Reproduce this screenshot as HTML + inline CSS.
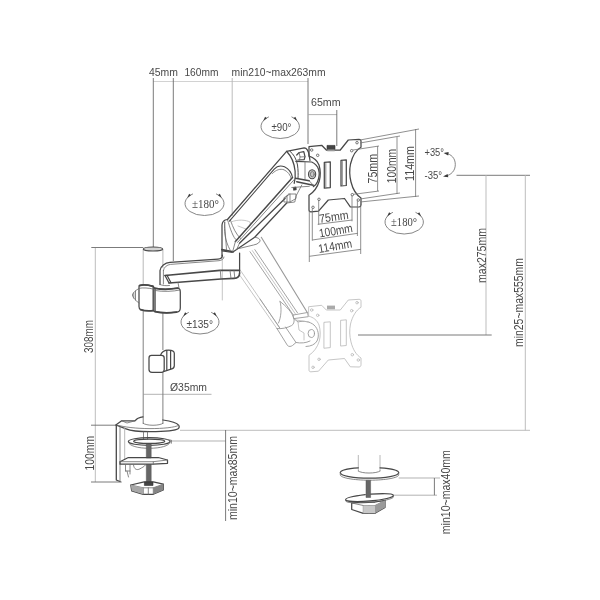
<!DOCTYPE html>
<html lang="en">
<head>
<meta charset="utf-8">
<title>Monitor arm dimensions</title>
<style>
html,body{margin:0;padding:0;background:#fff;}
body{width:600px;height:600px;overflow:hidden;}
svg{display:block;width:600px;height:600px;filter:blur(0.45px);}
text{font-family:"Liberation Sans",sans-serif;font-size:10.5px;fill:#484848;}
.d{fill:none;stroke:#747474;stroke-width:0.8;}
.d1{fill:none;stroke:#6c6c6c;stroke-width:0.9;}
.d2{fill:none;stroke:#a4a4a4;stroke-width:0.85;}
.d3{fill:none;stroke:#b6b6b6;stroke-width:0.9;}
.p{fill:none;stroke:#b0b0b0;stroke-width:0.9;}
.p2{fill:none;stroke:#7a7a7a;stroke-width:0.95;}
.dl{fill:none;stroke:#b5b5b5;stroke-width:0.8;}
.o{fill:none;stroke:#484848;stroke-width:1.25;stroke-linejoin:round;stroke-linecap:round;}
.o2{fill:none;stroke:#6a6a6a;stroke-width:0.8;stroke-linejoin:round;stroke-linecap:round;}
.g{fill:none;stroke:#b8b8b8;stroke-width:0.8;stroke-linejoin:round;stroke-linecap:round;}
.g2{fill:none;stroke:#999;stroke-width:0.9;stroke-linejoin:round;stroke-linecap:round;}
.k{fill:#444;stroke:#333;stroke-width:0.6;}
.h{fill:none;stroke:#555;stroke-width:0.8;}
.sc{fill:#666;stroke:#555;stroke-width:0.5;}
.w{fill:#fff;}
.s{fill:none;stroke:#707070;stroke-width:0.85;}
.ah{fill:#3a3a3a;stroke:none;}
text.sn{font-size:10px;}
text.sf{font-family:"Liberation Serif",serif;font-size:12px;}
text.big{font-size:13px;}
text.r{font-size:12px;}
</style>
</head>
<body>
<svg viewBox="0 0 600 600" width="600" height="600">
<rect x="0" y="0" width="600" height="600" fill="#ffffff"/>

<!-- ===== dimension lines ===== -->
<g id="dims">
  <path class="d3" d="M153.3 81.5H308" style="stroke:#cdcdcd"/>
  <path class="d1" d="M153.3 78V247M173.3 78V261M308 78V144"/>
  <path class="d3" d="M232.2 78V216"/>
  <!-- 65mm -->
  <path class="d2" d="M308 114.6H337"/>
  <path class="d1" d="M336.8 110V146"/>
  <!-- 308mm -->
  <path class="d1" d="M91.3 247.5H143.3"/>
  <path class="d3" d="M95.3 248V482"/>
  <!-- desk line -->
  <path class="d3" d="M180 430.3H530"/>
  <!-- 100mm -->
  <path class="d1" d="M91 425.2H116M91 482H121.7"/>
  <!-- diameter 35 -->
  <path class="d2" d="M143.6 394.3H211.5"/>
  <!-- min10~max85 -->
  <path class="d2" d="M170 441H226"/>
  <path class="d1" d="M225.6 430V521"/>
  <!-- right side -->
  <path class="d1" d="M456.5 175.3H530"/>
  <path class="d3" d="M486 175V335M525.3 175V430.3"/>
  <path class="d1" d="M358 335H491.7"/>
  <!-- grommet dims -->
  <path class="d2" d="M398.7 478H440M393.3 495.2H437"/>
  <path class="d1" d="M434.4 478V495.2"/>
</g>

<!-- ===== pole ===== -->
<g id="pole">
  <path class="p" d="M143.2 249V285M162.9 249V268"/>
  <path class="p2" d="M143.2 311V424M162.9 312V350M162.9 372V424"/>
  <ellipse cx="153" cy="249" rx="9.6" ry="2" fill="#d4d4d4" stroke="#4a4a4a" stroke-width="1.2"/>
  <path class="o2" d="M143.2 423.3C146 426 160 426 162.9 423.3"/>
</g>

<!-- ===== collar ===== -->
<g id="collar">
  <path class="o" d="M139 286.5C139 284.5 145 284.5 153 286.2L154.5 288C162 289.5 172 289 177.5 288C179.5 288 180.3 289.5 180.3 292V308C180.3 311 178.5 312.2 176 312.2C168 313.2 160 312.8 154.5 311.5L153 310.5C148 311 143 310.5 140.5 309.5C139.3 309 139 308 139 306.5Z"/>
  <path class="o" d="M153.2 286.5V310.5M155 288.3V311.5" style="stroke-width:1.4"/>
  <path class="o2" d="M139 288.5C136 290 133 292.5 132.3 295C133 298 136 301 139 303M135.5 291V300M133.8 293V298"/>
  <path class="o2" d="M155 290.5C163 292 173 291.5 180 290"/>
  <path class="o2" d="M139 288.3C143 287.5 149 288 153 289"/>
  <path class="o" d="M139.5 285.6C142 284.8 148 285 153 286.4M155 288.4C162 289.7 172 289.2 178 288.2M140.5 309.6C144 310.7 149 311 153 310.6M155 311.7C161 313 170 313 176.5 312.2" style="stroke-width:1.7"/>
</g>

<!-- ===== cable clip ===== -->
<g id="clip">
  <path class="o" d="M151.5 355.3H161.5C163.3 355.3 164.2 356.3 164.2 358V369.5C164.2 371.3 163.2 372.3 161.5 372.3H152C150 372.3 149 371.3 149 369.5V358C149 356.3 150 355.3 151.5 355.3Z"/>
  <path class="o" d="M160.5 355.3C161.5 351.8 164.5 350 168.5 350C172 350 174.3 351 174.3 353.3V365.8C174.3 367.8 173 368.8 171 369.2L164.2 371.3"/>
  <path class="o" d="M166.8 350.3V370.5M170.6 350.5V369.3" style="stroke-width:1.2"/>
</g>

<!-- ===== desk clamp ===== -->
<g id="clamp">
  <!-- base plate -->
  <path class="o" d="M115.8 425L121.7 420.8H135L137.5 418.5C139.5 417.6 141.5 417 143 416.8M162.9 420C170 421 177 423 178.8 425.3C179.5 426.3 179.3 427.5 178.5 428.5C175 431 164 431.6 150 431.6C140 431.6 130 430.5 126 428.8L115.8 425"/>
  <path class="o2" d="M117.5 425.2C124 427 136 428.6 150 428.6C163 428.6 175 427.5 178.8 425.3"/>
  <path class="o2" d="M121.7 420.8L127 423L135 420.8"/>
  <!-- vertical bracket -->
  <path class="o" d="M116.3 425.5V480M116.3 480L120 481.5" style="stroke-width:1.3"/>
  <path class="o2" d="M120 427V481.5"/>
  <path class="p" d="M124.7 428V460"/>
  <path class="o2" d="M143.5 432V439M147.5 432V439"/>
  <!-- upper pressure plate -->
  <ellipse class="o" cx="149.2" cy="441.5" rx="20.8" ry="3.9"/>
  <ellipse class="o" cx="149.2" cy="441.3" rx="15.5" ry="2.2"/>
  <path class="o2" d="M128.4 442.3C129 445.8 138 448.3 149.2 448.3C160.5 448.3 169.5 445.8 170 442.3"/>
  <path class="o2" d="M166 439.3L171.5 440.3L171.3 443.3"/>
  <!-- screw -->
  <path class="sc" d="M146.3 444H151.2V458H146.3Z"/>
  <path class="sc" d="M146.3 464.5H151.2V482.5H146.3Z"/>
  <!-- lower plate -->
  <path class="o" d="M120 461.7L128.3 457.5H158.3L167.5 460V463.3L153.3 464.2H120Z"/>
  <path class="o2" d="M120 461.7H153.3L167.5 460M153.3 461.7V464.2"/>
  <path class="o2" d="M125.5 465V471M127 471L128.5 477M130 465V474M125.5 471H130M133.5 465C134 469.5 137 470.5 140 468.8C142 467.5 144 467 145.5 465"/>
  <!-- knob -->
  <path class="o" d="M130.8 485L144.2 481.8H153.3L163.3 484.2V490L153.3 494.3H143.3L131.7 490.8Z"/>
  <path class="k" d="M144.4 482H153V485.5H144.4Z"/>
  <path class="o2" d="M130.8 485L143.3 487.8H153.3L163.3 484.2M143.3 487.8V494.3M153.3 487.8V494.3M148.3 487.8V494.3"/>
  <path d="M153.3 487.8L163.3 484.2V490L153.3 494.3Z" fill="#858585" stroke="none"/>
  <path d="M130.8 485L143.3 487.8V494.3L131.7 490.8Z" fill="#a8a8a8" stroke="none"/>
</g>

<!-- ===== ghost arm (lower position) ===== -->
<g id="ghostarm">
  <path class="g2" d="M261.3 237.3L307.3 312.5" style="stroke-width:1.1"/>
  <path class="g2" d="M250 251.7L293.3 315M254.8 249.6L297.5 312.8"/>
  <path class="g" d="M252.3 250.6L295.3 313.8"/>
  <path class="g" d="M241.2 271.5L280 328.3M239.6 275L277 328.6"/>
  <path class="g2" d="M260 299L280 328.3"/>
  <path class="g2" d="M293.3 315L307.5 312.5L308.3 316.7L294 318.6Z"/>
  <path class="g2" d="M280 301.5C282 308 281 318 278.5 323M280 301.5C286 306 292 312 294 318.6C294.5 322 293.5 324.5 291.7 325.5C287 328 282 329 277 328.6"/>
  <path class="g2" d="M277 328.6L287.5 345.5C289 347 291 346.5 292.5 345.5L296 342.5L285.5 327"/>
  <path class="g2" d="M296 342.5C301 343.5 306 343 310 341M294 318.6L298 322C303 320.5 310 321.5 314 325C318.5 329 319.5 336 317 341C315 344.5 311 346.3 306 346.5"/>
  <path class="g" d="M298 322L299 330L304 333V340M296 320L309 322"/>
  <ellipse class="g2" cx="311.3" cy="333.5" rx="3.2" ry="4"/>
  <path class="g" d="M222.3 257V300"/>
</g>

<!-- ===== ghost VESA plate ===== -->
<g id="ghostplate" transform="translate(0 160)">
  <path class="g" d="M309 146.7L321.7 145.3L326.3 150H340.3L348.3 140L359 139.3C360.5 139.3 361 140 361 141.3V147.3C356 150 352.3 156.7 350.5 164C349.3 170 349.5 176 351 182C353 190 356.5 195 361 198V204.7C361 206 360.5 206.8 359 207L350.3 206.8L344.5 198.5L328.3 200L318.5 211.2L311 211.8C309.7 211.8 309 211.3 309 210V195.3C314 192 317.5 187 319.3 181C320.6 176 320.5 170 319 165C317 160 313.5 157.5 309 156.2Z"/>
  <path class="g" d="M324.3 162.3L330.3 161.8V187.6L324.3 188.2ZM341 160.3L346.3 159.8V185.5L341 186Z"/>
  <circle class="g" cx="311.7" cy="150" r="1.25"/><circle class="g" cx="317.7" cy="155.3" r="1.25"/>
  <circle class="g" cx="357" cy="142.7" r="1.25"/><circle class="g" cx="351.7" cy="150.7" r="1.25"/>
  <circle class="g" cx="352.3" cy="194.7" r="1.25"/><circle class="g" cx="358.3" cy="200" r="1.25"/>
  <circle class="g" cx="319" cy="199.3" r="1.25"/><circle class="g" cx="313" cy="207.3" r="1.25"/>
  <path d="M327 145.6H335V149.3H327Z" fill="#aaa"/>
</g>

<!-- ===== lower arm ===== -->
<g id="lowerarm">
  <!-- hub on pole -->
  <path class="o" d="M160 284.5V270.5C160.5 266 165 262.8 170 262.4L218 259.2C220.5 259 222.4 257.5 222.4 255"/>
  <path class="o2" d="M163.4 270.5C164 267 167 264.8 170.5 264.4L219 260.7C221.5 260.5 224 259 224 257"/>
  <path class="o" d="M165 275.5L220 270.4H239.6" style="stroke-width:1.6"/>
  <path class="o" d="M169 283L221 279L234 278.4C237.5 278.2 239.6 276 239.6 273" style="stroke-width:1.6"/>
  <path class="o" d="M165 275.5L169 283M167 275.3L171 282.8"/>
  <path class="o2" d="M220.3 270.4L221 279M230 270.3L231 278.5M234 270.3L234.8 278"/>
  <path class="o2" d="M178 282.5L179 288M160 284.5C162 285.5 166 286 169.5 285.5"/>
  <path class="o2" d="M163.4 270.5V284"/>
</g>

<!-- ===== elbow joint ===== -->
<g id="elbow">
  <path class="o" d="M227.5 219.5C224.5 219.8 222.2 221.5 222 225V256"/>
  <path class="o" d="M221.8 249.6L233.3 251.8" style="stroke-width:1.6"/>
  <path class="o" d="M239.6 253V273"/>
  <path class="o2" d="M224.5 222L226.5 249.5M227.5 219.5C230 228 233 238 236.8 240.5"/>
  <path class="o2" d="M230.4 220C233 228 236 234 240.5 238.5"/>
  <path class="o2" d="M224.9 222.2C223.8 230 224.5 240 230.2 250.2"/>
  <path class="g" d="M231 222C238 219 246 220 250 222C251 225 249 228 246 229L238 226"/>
</g>

<!-- ===== upper arm ===== -->
<g id="upperarm">
  <path class="o" d="M227.5 219.5L286.6 151.3L304.2 147.9C307 148 308.5 151 309.2 155.8L310 160.5"/>
  <path class="o" d="M286.6 151.3C291 156 294.3 163 295.1 171C295.5 176 295.2 180 294.2 183.3"/>
  <!-- inner panel -->
  <path class="o" d="M229.4 221.2L274.2 169.2C277 166 281 165.4 284.5 166.8C289 169 291.6 173 292.5 177.5" style="stroke-width:1.1"/>
  <path class="o2" d="M272.5 173.5C276 169.5 280.5 168.6 284 169.8C288 171.6 290.4 175 291.3 178.7"/>
  <!-- lower edges -->
  <path class="o" d="M235.4 241.4L292.5 177.5" style="stroke-width:1.5"/>
  <path class="o2" d="M237.6 242.4L294.3 179.5"/>
  <path class="o" d="M239.5 243.2L285 198.5" style="stroke-width:1.3"/>
  <path class="o" d="M222.3 251L232.5 252.3L236.6 249.6L254.7 237.3L286.7 203"/>
  <path class="o2" d="M254.7 237.3C258 237.5 260.5 239 260 241.5L257 244L253.5 245L239.5 248.4"/>
  <path class="o2" d="M232.5 252.3L235.4 241.4M236.6 249.6L239.5 243.2"/>
  <path class="o2" d="M286.7 203L294.8 202L296 196L301.8 185M285 198.5L289 193.5"/>
  <path class="o2" d="M284.3 197.5L290 194H296V198.5L290 202H284.3Z"/>
  <path class="o2" d="M287 195.8V202M290 194V202"/>
  <path class="k" d="M293.3 187.5L296 187L296.3 189.8L293.6 190.3Z"/>
  <path class="o2" d="M291.8 187.5L309.3 186.3"/>
</g>

<!-- ===== hinge block ===== -->
<g id="hinge">
  <path class="o" d="M290 151.3C293.5 154 296.5 159 297.5 165C298.2 170 298.3 175 298 178.3" style="stroke-width:1"/>
  <path class="o" d="M296.7 155L299.2 152.5L303.8 151.7L305 156.7L304.2 159.6L297.9 160"/>
  <path class="o2" d="M299.2 152.5L300 157L305 156.7M300 157L299.5 160"/>
  <path class="o" d="M295.8 161.3L311.7 162C315 163.5 317.5 166 318.6 169.5C319.6 173 319.3 177.5 317.5 181.7C316.5 184 315 185.8 313.3 186.7"/>
  <path class="o2" d="M305 162.5V179.2"/>
  <path class="o" d="M295.4 178.3L309.2 180.8M296.7 181.7L313.3 185.2" style="stroke-width:1.4"/>
  <path class="o2" d="M309.2 180.8L313.3 185.2"/>
  <ellipse cx="312.1" cy="174.2" rx="3.6" ry="4.5" fill="#c8c8c8" stroke="#484848" stroke-width="1.1"/>
  <ellipse class="o2" cx="312.3" cy="174.2" rx="1.9" ry="2.6"/>
</g>

<!-- ===== VESA plate ===== -->
<g id="plate">
  <path class="o" d="M309 146.7L321.7 145.3L326.3 150H340.3L348.3 140L359 139.3C360.5 139.3 361 140 361 141.3V147.3C356 150 352.3 156.7 350.5 164C349.3 170 349.5 176 351 182C353 190 356.5 195 361 198V204.7C361 206 360.5 206.8 359 207L350.3 206.8L344.5 198.5L328.3 200L318.5 211.2L311 211.8C309.7 211.8 309 211.3 309 210V195.3C314 192 317.5 187 319.3 181C320.6 176 320.5 170 319 165C317 160 313.5 157.5 309 156.2Z"/>
  <path class="o" d="M324.3 162.3L330.3 161.8V187.6L324.3 188.2ZM341 160.3L346.3 159.8V185.5L341 186Z"/>
  <path class="o2" d="M325.8 163.5V187M342.3 161.5V185"/>
  <circle class="h" cx="311.7" cy="150" r="1.25"/><circle class="h" cx="317.7" cy="155.3" r="1.25"/>
  <circle class="h" cx="357" cy="142.7" r="1.25"/><circle class="h" cx="351.7" cy="150.7" r="1.25"/>
  <circle class="h" cx="352.3" cy="194.7" r="1.25"/><circle class="h" cx="358.3" cy="200" r="1.25"/>
  <circle class="h" cx="319" cy="199.3" r="1.25"/><circle class="h" cx="313" cy="207.3" r="1.25"/>
  <path class="k" d="M327 145.4H335V149.5H327Z"/>
  <path d="M327.3 149.5H334.7V151.3H327.3Z" fill="#999"/>
</g>

<!-- ===== rotation symbols ===== -->
<g id="rot">
  <path class="s" d="M268.9 116.8A19.2 12 0 1 0 291.5 116.8"/>
  <path class="ah" d="M263.1 121.1L265.1 116.8L266.9 118.2Z"/>
  <path class="ah" d="M297.3 121.1L293.5 118.2L295.3 116.8Z"/>
  <text class="sn" x="271.5" y="130.5" textLength="20" lengthAdjust="spacingAndGlyphs">±90°</text>
  <path class="s" d="M193.0 193.8A19.5 12 0 1 0 216.0 193.8"/>
  <path class="ah" d="M187.1 198.1L189.2 193.8L190.9 195.2Z"/>
  <path class="ah" d="M221.9 198.1L218.1 195.2L219.8 193.8Z"/>
  <text class="sf" x="192" y="207.5" textLength="27" lengthAdjust="spacingAndGlyphs">±180°</text>
  <path class="s" d="M188.8 312.3A19 12 0 1 0 211.2 312.3"/>
  <path class="ah" d="M183.1 316.6L185.1 312.2L186.9 313.7Z"/>
  <path class="ah" d="M216.9 316.6L213.1 313.7L214.9 312.2Z"/>
  <text class="sn" x="186.5" y="327.5" textLength="26.5" lengthAdjust="spacingAndGlyphs">±135°</text>
  <path class="s" d="M392.9 212.3A19.2 12 0 1 0 415.5 212.3"/>
  <path class="ah" d="M387.1 216.6L389.1 212.3L390.9 213.7Z"/>
  <path class="ah" d="M421.3 216.6L417.5 213.7L419.3 212.3Z"/>
  <text class="sf" x="391" y="226" textLength="26" lengthAdjust="spacingAndGlyphs">±180°</text>
  <text class="sn" x="424.5" y="155.5" textLength="19.5" lengthAdjust="spacingAndGlyphs">+35°</text>
  <text class="sn" x="424.5" y="179" textLength="17.5" lengthAdjust="spacingAndGlyphs">-35°</text>
  <path class="s" d="M445.5 153.3C451 154 455.3 158 455.3 164.5C455.3 171 451 175 445 176.3"/>
  <path class="ah" d="M443.6 153L448.6 152L448.2 155.4Z"/>
  <path class="ah" d="M443 176.6L447.6 174L448.3 177.3Z"/>
</g>

<!-- ===== VESA dims ===== -->
<g id="vesadims">
  <path class="d" d="M360 140L419 129M360 143L400 136M353 150L379 146"/>
  <path class="d" d="M353 194.4L379 191M360 199L400 193M360 202L419 196"/>
  <path class="d" d="M377.6 146V191M397 137V194M415.6 129V197"/>
  <path class="d" d="M309.3 211V262M312.3 208.7V240.7M318.7 200V224.7M352 195.3V221.3M357.4 200.7V236M360.7 203.3V254"/>
  <path class="d" d="M317.7 224.3L352.3 220M312.3 240L357.7 233.3M309.3 256.3L361 249.3"/>
  <text class="r" transform="translate(319.7 222.9) rotate(-8)" textLength="29.5" lengthAdjust="spacingAndGlyphs">75mm</text>
  <text class="r" transform="translate(319.7 237.5) rotate(-9.5)" textLength="34" lengthAdjust="spacingAndGlyphs">100mm</text>
  <text class="r" transform="translate(319 252.9) rotate(-9.5)" textLength="34" lengthAdjust="spacingAndGlyphs">114mm</text>
  <text class="big" transform="translate(376.5 183.5) rotate(-90)" textLength="29.5" lengthAdjust="spacingAndGlyphs">75mm</text>
  <text class="big" transform="translate(395.8 183.3) rotate(-90)" textLength="34.5" lengthAdjust="spacingAndGlyphs">100mm</text>
  <text class="big" transform="translate(414 181) rotate(-90)" textLength="35" lengthAdjust="spacingAndGlyphs">114mm</text>
</g>

<!-- ===== grommet clamp ===== -->
<g id="grommet">
  <path class="p" d="M358.3 455V471.5M380 455V471.5"/>
  <path class="o2" d="M358.3 471C361 473.8 377 473.8 380 471"/>
  <path class="o" d="M358.3 467.8C347.5 468.5 340.3 470.4 340.3 472.8C340.3 475.8 353.4 478.2 369.5 478.2C385.6 478.2 398.7 475.8 398.7 472.8C398.7 470.4 391 468.5 380 467.8"/>
  <path class="o2" d="M340.3 472.8V474.8C340.3 477.8 353.4 480.2 369.5 480.2C385.6 480.2 398.7 477.8 398.7 474.8V472.8"/>
  <path class="sc" d="M366 480.3H370.6V497.5H366Z"/>
  <g transform="rotate(-5 369.5 497.5)">
    <path class="o" d="M365.5 494.2C354 494.6 345.5 495.8 345.5 497.5C345.5 499.5 356 501 369.5 501C383 501 393.5 499.5 393.5 497.5C393.5 495.8 385 494.5 371 494.2"/>
    <path class="o2" d="M345.5 497.5V498.8C345.5 500.8 356 502.4 369.5 502.4C383 502.4 393.5 500.8 393.5 498.8V497.5"/>
  </g>
  <path class="o" d="M351.7 503L363.3 502H375L385 500.5V507.5L375 513.3H363.3L351.7 509.5Z"/>
  <path class="o2" d="M351.7 503L363.3 505.5H375L385 500.5M363.3 505.5V513.3M375 505.5V513.3M369 505.5V513.3"/>
  <path d="M375 505.5L385 500.5V507.5L375 513.3Z" fill="#9a9a9a"/>
  <path d="M363.3 505.5H375V513.3H363.3Z" fill="#c8c8c8"/>
</g>

<!-- ===== texts ===== -->
<g id="labels">
  <text x="149" y="75.6" textLength="29" lengthAdjust="spacingAndGlyphs">45mm</text>
  <text x="184.4" y="75.6" textLength="34" lengthAdjust="spacingAndGlyphs">160mm</text>
  <text x="231.6" y="75.6" textLength="94" lengthAdjust="spacingAndGlyphs">min210~max263mm</text>
  <text x="311" y="106.4" textLength="29.6" lengthAdjust="spacingAndGlyphs">65mm</text>
  <text x="170" y="391" textLength="37" lengthAdjust="spacingAndGlyphs">Ø35mm</text>
  <text class="r" transform="translate(93.3 353) rotate(-90)" textLength="33" lengthAdjust="spacingAndGlyphs">308mm</text>
  <text class="r" transform="translate(93.5 470.4) rotate(-90)" textLength="34.4" lengthAdjust="spacingAndGlyphs">100mm</text>
  <text class="r" transform="translate(237 520) rotate(-90)" textLength="84" lengthAdjust="spacingAndGlyphs">min10~max85mm</text>
  <text class="r" transform="translate(450.3 534.2) rotate(-90)" textLength="84" lengthAdjust="spacingAndGlyphs">min10~max40mm</text>
  <text class="r" transform="translate(485.5 283) rotate(-90)" textLength="55" lengthAdjust="spacingAndGlyphs">max275mm</text>
  <text class="r" transform="translate(523 347) rotate(-90)" textLength="89" lengthAdjust="spacingAndGlyphs">min25~max555mm</text>
</g>

</svg>
</body>
</html>
